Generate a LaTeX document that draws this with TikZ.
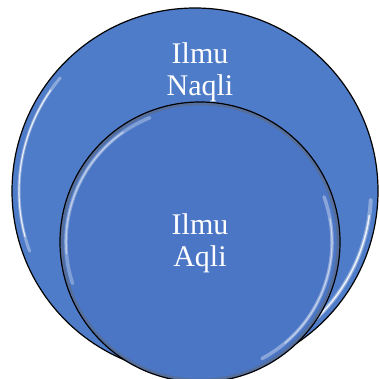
\documentclass[tikz,border=0pt]{standalone}
\usepackage{fontspec}
\setmainfont{Liberation Serif}

\definecolor{ringblue}{RGB}{79,124,200}
\definecolor{coreblue}{RGB}{74,118,197}

\tikzset{
    ring/.style = {draw = black, line width = 1.2pt},
    gloss/.style = {draw = white, line cap = round},
    label/.style = {text = white, align = center, inner sep = 0pt,
                    font = \fontsize{30}{32}\selectfont}
}

\begin{document}
\begin{tikzpicture}[x = 1pt, y = 1pt]
    \useasboundingbox (0,0) rectangle (379,378);
    \clip (0,0) rectangle (379,378);

    % outer circle
    \coordinate (outer) at (195,187);
    \fill [ringblue] (outer) circle [radius = 183];
    \draw [gloss, line width = 3pt, opacity = 0.35] (outer) ++(140:176) arc (140:200:176);
    \draw [gloss, line width = 1.2pt, opacity = 0.8] (outer) ++(145:176) arc (145:195:176);
    \draw [gloss, line width = 4pt, opacity = 0.35] (outer) ++(-3:176) arc (-3:-58:176);
    \draw [gloss, line width = 1.5pt, opacity = 0.85] (outer) ++(-8:176) arc (-8:-50:176);
    \draw [ring] (outer) circle [radius = 183];

    % inner circle
    \coordinate (inner) at (200,136);
    \fill [coreblue] (inner) circle [radius = 140];
    \draw [black!60, line width = 2.5pt, opacity = 0.45] (inner) circle [radius = 138];
    \draw [gloss, line width = 3.5pt, opacity = 0.3] (inner) ++(112:134) arc (112:198:134);
    \draw [gloss, line width = 1.5pt, opacity = 0.45] (inner) ++(125:134) arc (125:185:134);
    \draw [gloss, line width = 3.5pt, opacity = 0.35] (inner) ++(20:132) arc (20:-62:132);
    \draw [gloss, line width = 1.2pt, opacity = 0.5] (inner) ++(10:132) arc (10:-50:132);
    \draw [ring] (inner) circle [radius = 140];

    % labels
    \node [label] (naqli) at (200,306) {Ilmu\\Naqli};
    \node [label] (aqli) at (200,134.5) {Ilmu\\Aqli};
\end{tikzpicture}
\end{document}
